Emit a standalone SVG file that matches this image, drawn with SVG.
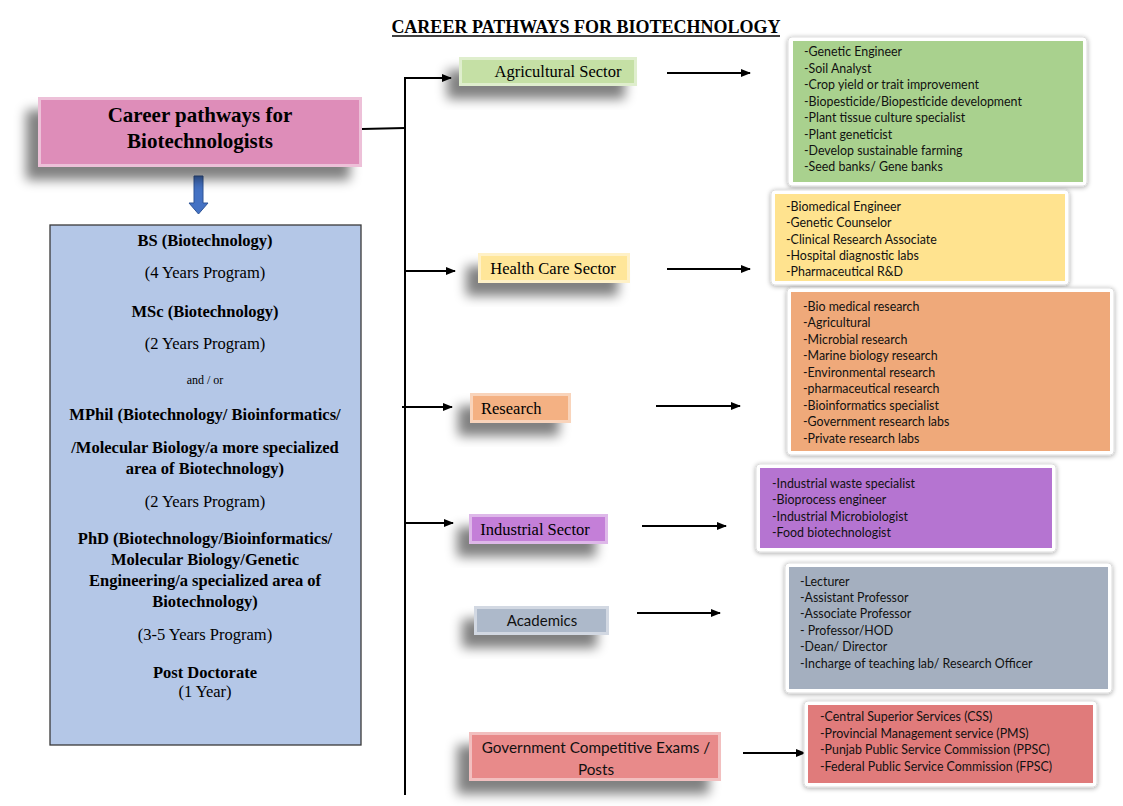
<svg xmlns="http://www.w3.org/2000/svg" width="1123" height="806" viewBox="0 0 1123 806">
<defs>
<filter id="sh" x="-30%" y="-60%" width="160%" height="240%">
<feGaussianBlur in="SourceAlpha" stdDeviation="6"/>
<feOffset dx="-12" dy="13" result="b"/>
<feComponentTransfer><feFuncA type="linear" slope="0.5"/></feComponentTransfer>
<feMerge><feMergeNode/><feMergeNode in="SourceGraphic"/></feMerge>
</filter>
<filter id="glow" x="-10%" y="-15%" width="120%" height="130%">
<feGaussianBlur in="SourceAlpha" stdDeviation="2.5"/>
<feOffset dx="0" dy="1"/>
<feComponentTransfer><feFuncA type="linear" slope="0.35"/></feComponentTransfer>
<feMerge><feMergeNode/><feMergeNode in="SourceGraphic"/></feMerge>
</filter>
<marker id="ah" markerWidth="10" markerHeight="8" refX="9" refY="4" orient="auto" markerUnits="userSpaceOnUse">
<path d="M0,0 L10,4 L0,8 Z" fill="#000"/>
</marker>
</defs>
<style>
.serif{font-family:"Liberation Serif","Times New Roman",serif;fill:#000}
.b{font-weight:bold}
.sans{font-family:Lato,"Open Sans","Liberation Sans",sans-serif;fill:#111}
.list{font-family:Lato,"Open Sans","Liberation Sans",sans-serif;font-size:12.4px;fill:#111}
.conn{stroke:#000;stroke-width:2;fill:none}
.frame{fill:#fff;stroke:#ddd;stroke-width:1}
.bevel{fill:none;stroke:#fff;stroke-opacity:0.45;stroke-width:3}
</style>
<rect width="1123" height="806" fill="#fff"/>
<g id="title">
<text class="serif b" x="586" y="33" font-size="18" text-anchor="middle">CAREER PATHWAYS FOR BIOTECHNOLOGY</text>
<line x1="392" y1="36" x2="780" y2="36" stroke="#000" stroke-width="1.3"/>
</g>
<g id="connectors">
<polyline class="conn" points="362,129 405,128"/>
<polyline class="conn" points="405,795 405,78 451,78" marker-end="url(#ah)"/>
<line class="conn" x1="405" y1="271" x2="455" y2="271" marker-end="url(#ah)"/>
<line class="conn" x1="402" y1="407" x2="452" y2="407" marker-end="url(#ah)"/>
<line class="conn" x1="405" y1="523" x2="453" y2="523" marker-end="url(#ah)"/>
<line class="conn" x1="667" y1="73" x2="750" y2="73" marker-end="url(#ah)"/>
<line class="conn" x1="667" y1="269" x2="750" y2="269" marker-end="url(#ah)"/>
<line class="conn" x1="656" y1="406" x2="740" y2="406" marker-end="url(#ah)"/>
<line class="conn" x1="642" y1="526" x2="726" y2="526" marker-end="url(#ah)"/>
<line class="conn" x1="637" y1="613" x2="720" y2="613" marker-end="url(#ah)"/>
<line class="conn" x1="743" y1="753" x2="805" y2="753" marker-end="url(#ah)"/>
<path d="M194,176 H203 V203 H208 L198.5,214 L189,203 H194 Z" fill="#4472C4" stroke="#2F5597" stroke-width="1"/>
</g>
<g id="main">
<rect x="38" y="97" width="324" height="70" fill="#DE8DB9" filter="url(#sh)"/>
<rect x="39.5" y="98.5" width="321" height="67" class="bevel"/>
<text class="serif b" x="200" y="122" font-size="21" text-anchor="middle">Career pathways for</text>
<text class="serif b" x="200" y="148" font-size="21" text-anchor="middle">Biotechnologists</text>
</g>
<g id="education">
<rect x="50" y="225" width="311" height="520" fill="#B4C7E7" stroke="#3a3a3a" stroke-width="1.3"/>
<g class="serif" font-size="16.5" text-anchor="middle">
<text x="205" y="246" class="serif b">BS (Biotechnology)</text>
<text x="205" y="278">(4 Years Program)</text>
<text x="205" y="317" class="serif b">MSc (Biotechnology)</text>
<text x="205" y="349">(2 Years Program)</text>
<text x="205" y="384" font-size="12">and / or</text>
<text x="205" y="420" class="serif b">MPhil (Biotechnology/ Bioinformatics/</text>
<text x="205" y="453" class="serif b">/Molecular Biology/a more specialized</text>
<text x="205" y="474" class="serif b">area of Biotechnology)</text>
<text x="205" y="507">(2 Years Program)</text>
<text x="205" y="544" class="serif b">PhD (Biotechnology/Bioinformatics/</text>
<text x="205" y="565" class="serif b">Molecular Biology/Genetic</text>
<text x="205" y="586" class="serif b">Engineering/a specialized area of</text>
<text x="205" y="607" class="serif b">Biotechnology)</text>
<text x="205" y="640">(3-5 Years Program)</text>
<text x="205" y="678" class="serif b">Post Doctorate</text>
<text x="205" y="697">(1 Year)</text>
</g>
</g>
<g id="agri">
<rect x="459" y="57" width="178" height="29" fill="#C5E0A5" filter="url(#sh)"/>
<rect x="460.5" y="58.5" width="175" height="26" class="bevel"/>
<text class="serif" x="558" y="77" font-size="16.5" text-anchor="middle">Agricultural Sector</text>
</g>
<g id="agri-list">
<rect x="788" y="37" width="299" height="149" rx="4" class="frame" filter="url(#glow)"/>
<rect x="793" y="41" width="290" height="141" fill="#A9D18E"/>
<g class="list">
<text x="804" y="56">-Genetic Engineer</text>
<text x="804" y="73">-Soil Analyst</text>
<text x="804" y="89">-Crop yield or trait improvement</text>
<text x="804" y="106">-Biopesticide/Biopesticide development</text>
<text x="804" y="122">-Plant tissue culture specialist</text>
<text x="804" y="139">-Plant geneticist</text>
<text x="804" y="155">-Develop sustainable farming</text>
<text x="804" y="171">-Seed banks/ Gene banks</text>
</g>
</g>
<g id="health">
<rect x="478" y="253" width="152" height="30" fill="#FFE699" filter="url(#sh)"/>
<rect x="479.5" y="254.5" width="149" height="27" class="bevel"/>
<text class="serif" x="553" y="274" font-size="16.5" text-anchor="middle">Health Care Sector</text>
</g>
<g id="health-list">
<rect x="771" y="190" width="298" height="95" rx="4" class="frame" filter="url(#glow)"/>
<rect x="775" y="194" width="290" height="87" fill="#FFE38F"/>
<g class="list">
<text x="786" y="211">-Biomedical Engineer</text>
<text x="786" y="227">-Genetic Counselor</text>
<text x="786" y="244">-Clinical Research Associate</text>
<text x="786" y="260">-Hospital diagnostic labs</text>
<text x="786" y="276">-Pharmaceutical R&amp;D</text>
</g>
</g>
<g id="research">
<rect x="470" y="393" width="101" height="30" fill="#F4B183" filter="url(#sh)"/>
<rect x="471.5" y="394.5" width="98" height="27" class="bevel"/>
<text class="serif" x="481" y="414" font-size="16.5">Research</text>
</g>
<g id="research-list">
<rect x="787" y="288" width="327" height="167" rx="4" class="frame" filter="url(#glow)"/>
<rect x="791" y="292" width="319" height="159" fill="#EFA97A"/>
<g class="list">
<text x="803" y="311">-Bio medical research</text>
<text x="803" y="327">-Agricultural</text>
<text x="803" y="344">-Microbial research</text>
<text x="803" y="360">-Marine biology research</text>
<text x="803" y="377">-Environmental research</text>
<text x="803" y="393">-pharmaceutical research</text>
<text x="803" y="410">-Bioinformatics specialist</text>
<text x="803" y="426">-Government research labs</text>
<text x="803" y="443">-Private research labs</text>
</g>
</g>
<g id="industrial">
<rect x="469" y="514" width="139" height="30" fill="#C47FD8" filter="url(#sh)"/>
<rect x="470.5" y="515.5" width="136" height="27" class="bevel"/>
<text class="serif" x="535" y="535" font-size="16.5" text-anchor="middle">Industrial Sector</text>
</g>
<g id="industrial-list">
<rect x="756" y="464" width="300" height="88" rx="4" class="frame" filter="url(#glow)"/>
<rect x="760" y="468" width="292" height="80" fill="#B574D1"/>
<g class="list">
<text x="772" y="488">-Industrial waste specialist</text>
<text x="772" y="504">-Bioprocess engineer</text>
<text x="772" y="521">-Industrial Microbiologist</text>
<text x="772" y="537">-Food biotechnologist</text>
</g>
</g>
<g id="academics">
<rect x="474" y="606" width="135" height="29" fill="#ADB9CA" filter="url(#sh)"/>
<rect x="475.5" y="607.5" width="132" height="26" class="bevel"/>
<text class="sans" x="542" y="626" font-size="15" text-anchor="middle">Academics</text>
</g>
<g id="academics-list">
<rect x="785" y="563" width="327" height="130" rx="4" class="frame" filter="url(#glow)"/>
<rect x="789" y="567" width="319" height="122" fill="#A4AFBF"/>
<g class="list">
<text x="800" y="586">-Lecturer</text>
<text x="800" y="602">-Assistant Professor</text>
<text x="800" y="618">-Associate Professor</text>
<text x="800" y="635">- Professor/HOD</text>
<text x="800" y="651">-Dean/ Director</text>
<text x="800" y="668">-Incharge of teaching lab/ Research Officer</text>
</g>
</g>
<g id="government">
<rect x="469" y="732" width="252" height="49" fill="#E88A8A" filter="url(#sh)"/>
<rect x="470.5" y="733.5" width="249" height="46" class="bevel"/>
<text class="sans" x="596" y="753" font-size="15.3" text-anchor="middle">Government Competitive Exams /</text>
<text class="sans" x="596" y="775" font-size="15.3" text-anchor="middle">Posts</text>
</g>
<g id="government-list">
<rect x="804" y="701" width="293" height="86" rx="4" class="frame" filter="url(#glow)"/>
<rect x="808" y="705" width="285" height="78" fill="#E07B7B"/>
<g class="list">
<text x="820" y="721">-Central Superior Services (CSS)</text>
<text x="820" y="738">-Provincial Management service (PMS)</text>
<text x="820" y="754">-Punjab Public Service Commission (PPSC)</text>
<text x="820" y="771">-Federal Public Service Commission (FPSC)</text>
</g>
</g>
</svg>
